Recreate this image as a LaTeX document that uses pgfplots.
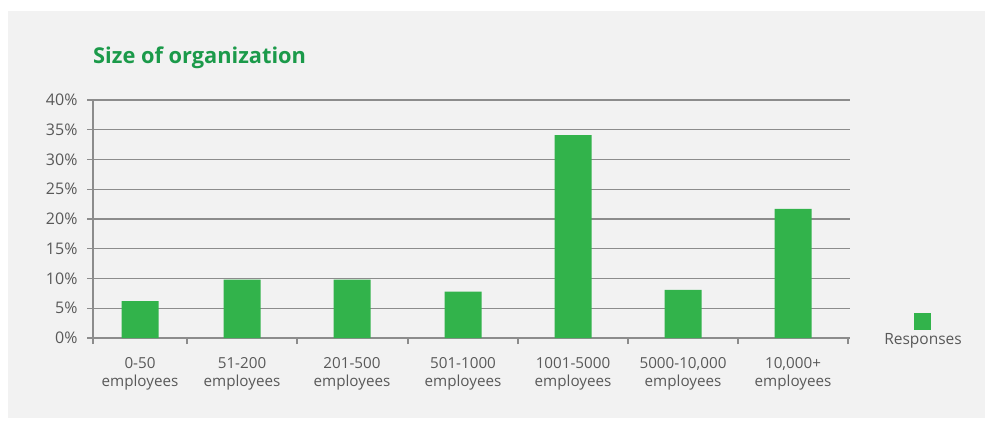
\documentclass[border=0pt]{standalone}
\usepackage{pgfplots}
\pgfplotsset{compat=1.18}
\usepackage{fontspec}
\setmainfont{Open Sans}
\definecolor{bggray}{HTML}{F2F2F2}
\definecolor{gridgray}{HTML}{8C8C8C}
\definecolor{textgray}{HTML}{595959}
\definecolor{bargreen}{HTML}{32B34B}
\definecolor{titlegreen}{HTML}{1B9A4A}
\begin{document}
\begin{tikzpicture}[x=1pt,y=1pt]
\fill[white] (0,0) rectangle (987,421);
\fill[bggray] (8,3) rectangle (985,410);
\node[anchor=base west, inner sep=0pt, text=titlegreen, font=\fontsize{21.8}{25}\selectfont\bfseries] at (93,357) {Size of organization};
\begin{axis}[
  at={(93pt,83pt)}, anchor=south west,
  scale only axis, width=757pt, height=238pt,
  xmin=93, xmax=850, ymin=0, ymax=40,
  axis x line*=bottom, axis y line*=left,
  axis line style={draw=gridgray, line width=1.2pt},
  ytick={0,5,...,40},
  ymajorgrids,
  grid style={draw=gridgray, line width=1.2pt},
  xtick={93,187,297,408,518,628,738,848},
  xticklabels={},
  tick align=outside, major tick length=6pt,
  tick style={draw=gridgray, line width=1.2pt},
  /pgf/number format/assume math mode=true,
  yticklabel={\pgfmathprintnumber{\tick}\%},
  yticklabel style={xshift=-6pt, font=\fontsize{16}{18}\selectfont},
  tick label style={text=textgray, font=\fontsize{15.2}{17.5}\selectfont},
  extra x ticks={140,242,352,463,573,683,793},
  extra x tick labels={{0-50\\employees},{51-200\\employees},{201-500\\employees},{501-1000\\employees},{1001-5000\\employees},{5000-10,000\\employees},{10,000+\\employees}},
  extra x tick style={major tick length=0pt, tick label style={align=center, yshift=-16pt}},
  legend style={draw=none, fill=none, at={(1.045,-0.006)}, anchor=west, inner sep=0pt, nodes={inner sep=0pt, text=textgray, font=\fontsize{15.5}{17.5}\selectfont}, column sep=0pt},
]
\addplot[ybar, bar width=37, fill=bargreen, draw=none,
  legend image code/.code={\path (0,0); \fill[bargreen,overlay] (30pt,9pt) rectangle (47pt,26pt);}]
  coordinates {(140,6.2) (242,9.8) (352,9.8) (463,7.8) (573,34.1) (683,8.1) (793,21.7)};
\addlegendentry{Responses}
\end{axis}
\end{tikzpicture}
\end{document}
